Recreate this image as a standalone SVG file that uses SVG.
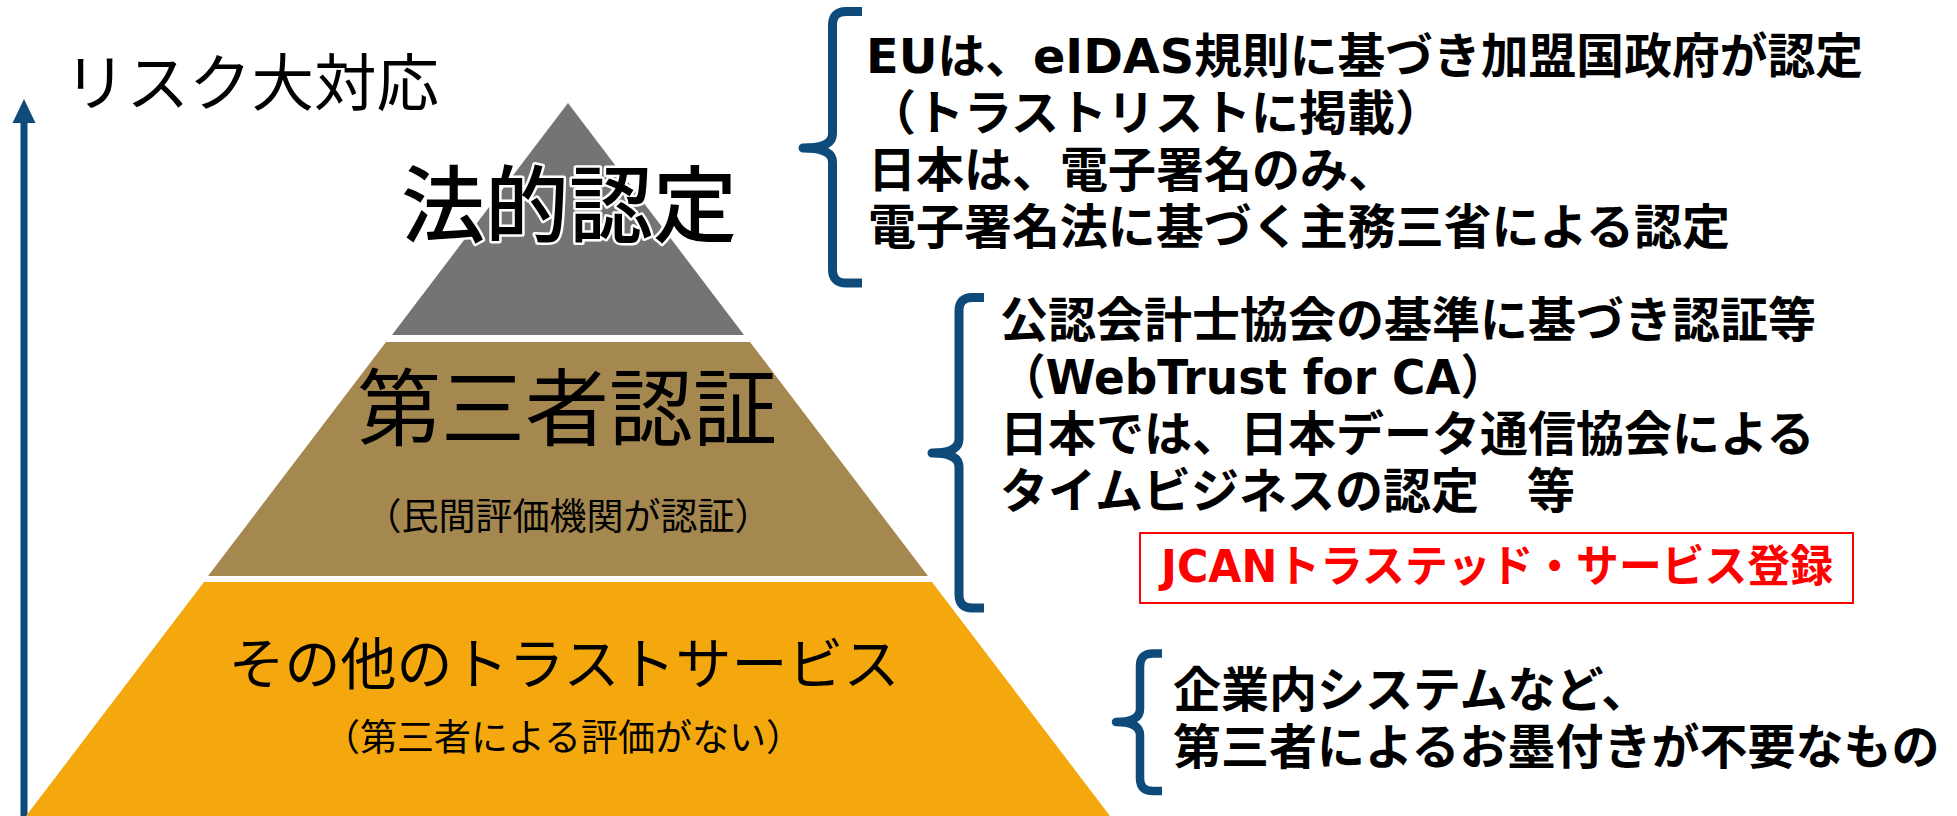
<svg xmlns="http://www.w3.org/2000/svg" width="1957" height="816" viewBox="0 0 1957 816">
  <style>
    .jp { font-family: "Noto Sans CJK JP", "Noto Sans", sans-serif; }
    .note { font-family: "DejaVu Sans", "Noto Sans CJK JP", sans-serif; font-size: 48px; font-weight: 700; fill: #000; }
    .brace { fill: none; stroke: #0E4B7A; stroke-width: 9; stroke-linejoin: round; stroke-linecap: butt; }
    .layer-title { font-family: "Noto Sans CJK JP", sans-serif; fill: #000; text-anchor: middle; }
    .sub { font-family: "Noto Sans CJK JP", sans-serif; font-size: 37px; fill: #000; text-anchor: middle; }
  </style>
  <rect width="1957" height="816" fill="#FFFFFF"/>

  <g id="axis">
    <line x1="24" y1="816" x2="24" y2="118" stroke="#0E4B7A" stroke-width="7"/>
    <polygon points="24,99 12.5,123 35.5,123" fill="#0E4B7A"/>
    <text class="jp" x="64" y="106" font-size="62" textLength="375" lengthAdjust="spacingAndGlyphs" fill="#000">リスク大対応</text>
  </g>

  <g id="layer-legal">
    <polygon points="568,103 744,335 392,335" fill="#747474"/>
    <text class="layer-title" x="569" y="236" font-size="84" font-weight="500" stroke="#FFFFFF" stroke-width="5" paint-order="stroke" stroke-linejoin="round">法的認定</text>
  </g>

  <g id="layer-third-party">
    <polygon points="386,342 750,342 928,576 208,576" fill="#A5884F"/>
    <text class="layer-title" x="567" y="439" font-size="84">第三者認証</text>
    <text class="sub" x="568" y="530">（民間評価機関が認証）</text>
  </g>

  <g id="layer-other">
    <polygon points="204,582 932,582 1110,816 26,816" fill="#F5A80D"/>
    <text class="layer-title" x="564" y="684" font-size="56">その他のトラストサービス</text>
    <text class="sub" x="563" y="751">（第三者による評価がない）</text>
  </g>

  <g id="connectors">
    <path class="brace" d="M862,11.5 H846 Q832.5,11.5 832.5,25 V134 Q832.5,148 803,148 Q832.5,148 832.5,162 V269.5 Q832.5,283 846,283 H862"/>
    <path class="brace" d="M984,297.5 H972 Q959,297.5 959,311 V439 Q959,453 932,453 Q959,453 959,467 V594.5 Q959,608 972,608 H984"/>
    <path class="brace" d="M1162,653.5 H1153 Q1140,653.5 1140,666 V709 Q1140,722 1116,722 Q1140,722 1140,735 V778.5 Q1140,791 1153,791 H1162" style="stroke-width:8.5"/>
  </g>

  <g id="note-legal">
    <text class="note">
      <tspan x="866" y="73" textLength="997" lengthAdjust="spacingAndGlyphs">EUは、eIDAS規則に基づき加盟国政府が認定</tspan>
      <tspan x="868" y="130">（トラストリストに掲載）</tspan>
      <tspan x="868" y="187">日本は、電子署名のみ、</tspan>
      <tspan x="868" y="244" textLength="862">電子署名法に基づく主務三省による認定</tspan>
    </text>
  </g>

  <g id="note-third-party">
    <text class="note">
      <tspan x="1000" y="337">公認会計士協会の基準に基づき認証等</tspan>
      <tspan x="1000" y="394" textLength="506" lengthAdjust="spacingAndGlyphs">（WebTrust for CA）</tspan>
      <tspan x="1000" y="451">日本では、日本データ通信協会による</tspan>
      <tspan x="1000" y="508">タイムビジネスの認定　等</tspan>
    </text>
  </g>

  <g id="badge-jcan">
    <rect x="1140" y="533" width="713" height="70" fill="#FFFFFF" stroke="#FF0000" stroke-width="2"/>
    <text x="1497" y="582" font-family="'DejaVu Sans', 'Noto Sans CJK JP', sans-serif" font-size="44" font-weight="700" fill="#FF0000" text-anchor="middle" textLength="672" lengthAdjust="spacingAndGlyphs">JCANトラステッド・サービス登録</text>
  </g>

  <g id="note-other">
    <text class="note">
      <tspan x="1173" y="707">企業内システムなど、</tspan>
      <tspan x="1173" y="764">第三者によるお墨付きが不要なもの</tspan>
    </text>
  </g>
</svg>
